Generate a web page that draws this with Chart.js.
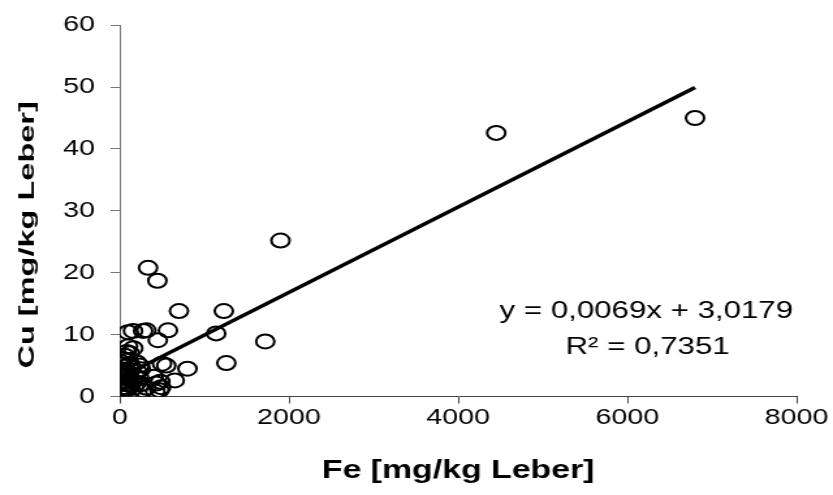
<!DOCTYPE html>
<html>
<head>
<meta charset="utf-8">
<script src="https://cdn.jsdelivr.net/npm/chart.js@4/dist/chart.umd.min.js"></script>
<style>
  html, body { margin: 0; padding: 0; background: #fff; }
</style>
</head>
<body>
<!-- drawing surface is 640 wide and shown 833 wide: text and markers come out horizontally stretched -->
<canvas id="chart" width="640" height="495" style="display:block;width:833px;height:495px"></canvas>
<script>
// Liver iron (Fe) vs copper (Cu), mg/kg
const feValues = [
  6800, 4450, 1900, 335, 445, 700, 1230, 1140, 1720, 1260, 800, 650,
  570, 315, 276, 157, 98, 450, 98, 80, 60, 118, 236, 10, 500, 550, 400, 480, 490, 470, 315, 276, 420, 430,
  20, 40, 60, 80, 100, 130, 150, 170, 200, 230, 250, 30, 50, 10, 70, 110, 140, 180, 90, 200, 160, 120, 40, 15, 60, 210, 260, 120
];
const cuValues = [
  45.0, 42.6, 25.2, 20.8, 18.7, 13.8, 13.8, 10.2, 8.9, 5.4, 4.5, 2.6,
  10.7, 10.7, 10.6, 10.6, 10.4, 9.1, 8.1, 7.2, 6.6, 5.3, 5.0, 5.6, 5.3, 5.0, 3.2, 2.4, 1.5, 1.0, 1.4, 1.0, 0.8, 2.1,
  1.2, 1.5, 1.0, 2.0, 1.3, 1.8, 2.5, 1.4, 2.2, 3.0, 4.4, 3.5, 4.2, 4.0, 3.0, 3.8, 4.6, 3.3, 5.8, 5.5, 7.8, 7.0, 2.5, 2.0, 4.8, 4.0, 2.0, 2.8
];

const xTickValues = [0, 2000, 4000, 6000, 8000];
const yTickValues = [0, 10, 20, 30, 40, 50, 60];

// linear trend line
const trendSlope = 0.0069;
const trendIntercept = 3.0179;
const equationText = 'y = 0,0069x + 3,0179';
const rSquaredText = 'R\u00B2 = 0,7351';

const xTitle = 'Fe [mg/kg Leber]';
const yTitle = 'Cu [mg/kg Leber]';

const FONT = '"Liberation Sans", Arial, sans-serif';

const points = feValues.map((fe, i) => ({ x: fe, y: cuValues[i] }));
const xMin = Math.min(...feValues);
const xMax = Math.max(...feValues);
const trendPoints = [xMin, xMax].map(x => ({ x, y: trendSlope * x + trendIntercept }));

const textPlugin = {
  id: 'chartText',
  afterDraw(chart) {
    const ctx = chart.ctx;
    const a = chart.chartArea;
    ctx.save();
    ctx.fillStyle = '#000';
    ctx.textAlign = 'center';
    ctx.textBaseline = 'middle';
    ctx.font = '24px ' + FONT;
    const cx = a.left + (a.right - a.left) * 0.778;
    ctx.fillText(equationText, cx, a.top + 286);
    ctx.fillText(rSquaredText, cx + 1, a.top + 322);

    // vertical axis title, long and narrow
    ctx.translate(21, (a.top + a.bottom) / 2 + 24);
    ctx.rotate(-Math.PI / 2);
    ctx.scale(1.97, 1);
    ctx.font = 'bold 16.5px ' + FONT;
    ctx.fillText(yTitle, 0, 0);
    ctx.restore();
  }
};

new Chart(document.getElementById('chart'), {
  data: {
    datasets: [
      {
        type: 'scatter',
        data: points,
        pointStyle: 'circle',
        pointRadius: 7,
        pointBorderWidth: 2,
        pointBorderColor: '#000',
        pointBackgroundColor: 'rgba(0,0,0,0)',
        order: 2
      },
      {
        type: 'line',
        data: trendPoints,
        borderColor: '#000',
        borderWidth: 3.5,
        pointRadius: 0,
        fill: false,
        order: 1
      }
    ]
  },
  options: {
    responsive: false,
    animation: false,
    events: [],
    layout: { padding: { left: 0, right: 28, top: 19, bottom: 0 } },
    plugins: { legend: { display: false }, tooltip: { enabled: false } },
    scales: {
      x: {
        type: 'linear',
        min: 0,
        max: 8000,
        afterBuildTicks: s => { s.ticks = xTickValues.map(v => ({ value: v })); },
        afterFit: s => { s.height = 98.5; },
        ticks: {
          callback: v => String(v),
          color: '#000',
          padding: 1,
          maxRotation: 0,
          font: { family: FONT, size: 22 }
        },
        grid: { drawOnChartArea: false, tickLength: 7, tickColor: '#444', tickWidth: 1 },
        border: { display: true, color: '#444', width: 1 },
        title: {
          display: true,
          text: xTitle,
          color: '#000',
          font: { family: FONT, size: 26, weight: 'bold' },
          padding: { top: 0, bottom: 9 }
        }
      },
      y: {
        type: 'linear',
        min: 0,
        max: 60,
        afterBuildTicks: s => { s.ticks = yTickValues.map(v => ({ value: v })); },
        afterFit: s => { s.width = 92; },
        ticks: {
          callback: v => String(v),
          color: '#000',
          padding: 12,
          font: { family: FONT, size: 22 }
        },
        grid: { drawOnChartArea: false, tickLength: 7, tickColor: '#777', tickWidth: 1 },
        border: { display: true, color: '#777', width: 1 }
      }
    }
  },
  plugins: [textPlugin]
});
</script>
</body>
</html>
